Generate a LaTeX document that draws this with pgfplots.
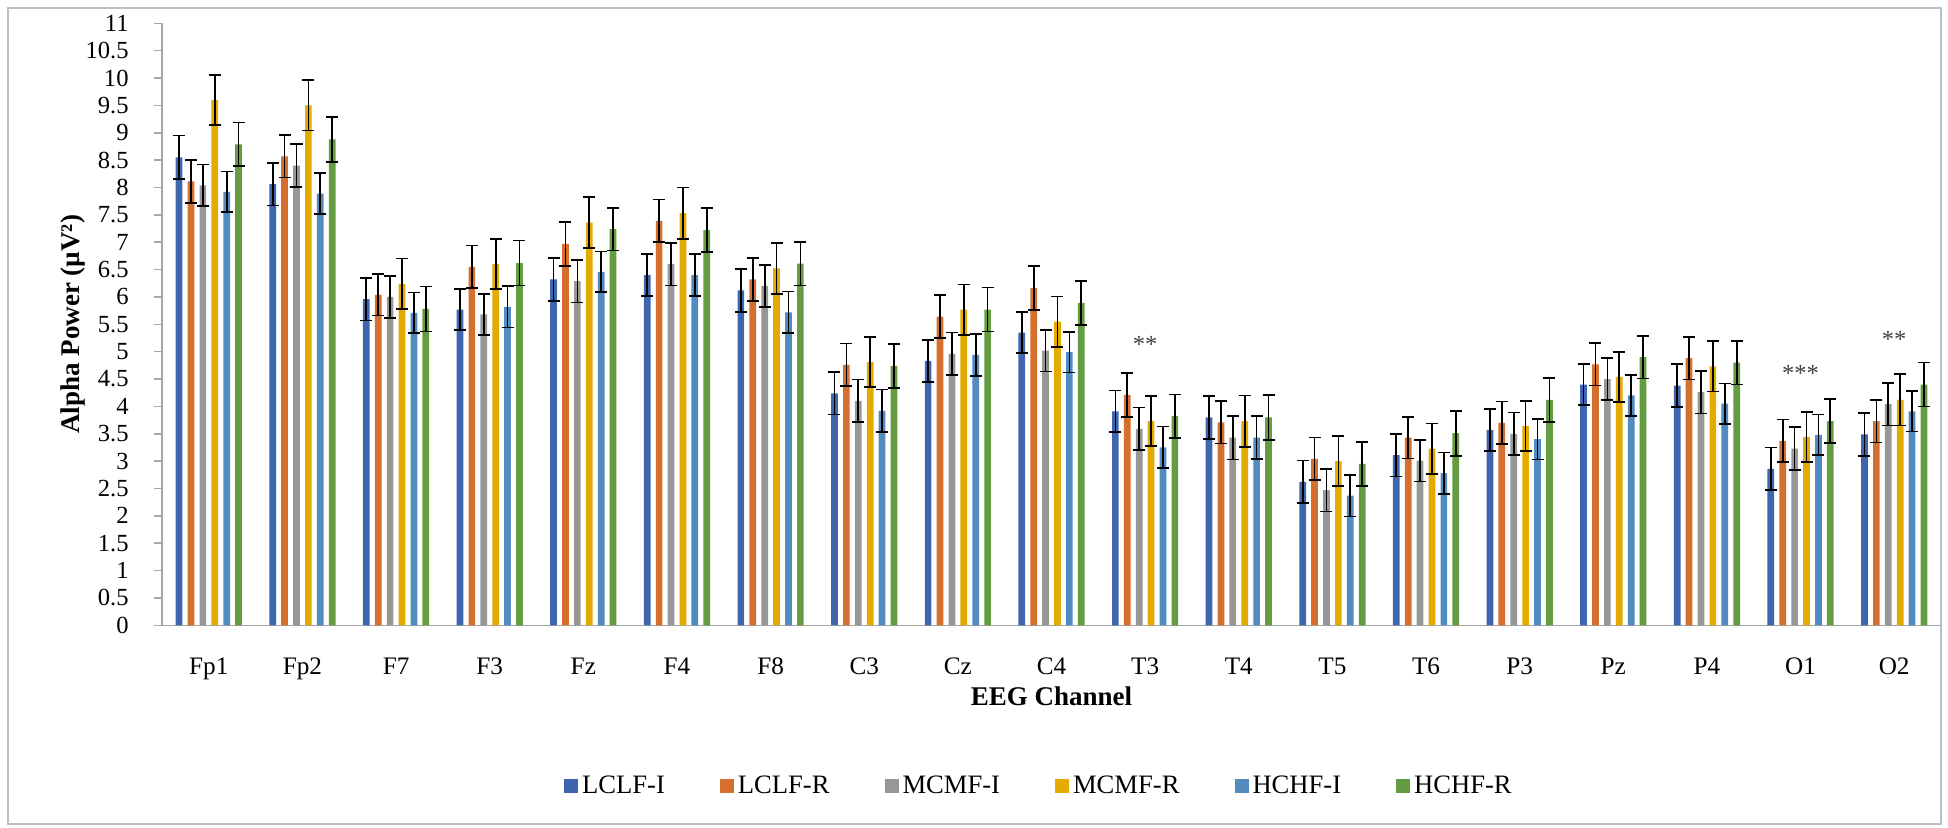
\documentclass[border=0pt]{standalone}
\usepackage{fontspec}
\setmainfont{Liberation Serif}
\usepackage{pgfplots}
\usepackage{pgfplotstable}
\pgfplotsset{compat=1.18}
\definecolor{cLI}{HTML}{3F65AE}
\definecolor{cLR}{HTML}{D56F2E}
\definecolor{cMI}{HTML}{979797}
\definecolor{cMR}{HTML}{E3AB00}
\definecolor{cHI}{HTML}{528BC0}
\definecolor{cHR}{HTML}{639C41}
\definecolor{axgray}{HTML}{A6A6A6}
\definecolor{framegray}{HTML}{BFBFBF}
\pgfplotstableread{
x LI LIe LR LRe MI MIe MR MRe HI HIe HR HRe
0 8.55 0.40 8.11 0.39 8.04 0.38 9.60 0.46 7.92 0.37 8.79 0.40
1 8.06 0.39 8.57 0.39 8.40 0.39 9.50 0.46 7.89 0.37 8.88 0.41
2 5.96 0.39 6.04 0.38 6.00 0.38 6.24 0.46 5.71 0.37 5.78 0.41
3 5.77 0.38 6.55 0.39 5.68 0.38 6.60 0.46 5.82 0.38 6.62 0.41
4 6.32 0.39 6.97 0.40 6.29 0.39 7.36 0.46 6.46 0.37 7.24 0.39
5 6.40 0.38 7.39 0.39 6.60 0.39 7.53 0.47 6.40 0.38 7.22 0.40
6 6.12 0.39 6.32 0.39 6.20 0.38 6.52 0.46 5.72 0.38 6.61 0.40
7 4.24 0.39 4.76 0.39 4.10 0.39 4.81 0.46 3.92 0.39 4.74 0.40
8 4.83 0.38 5.64 0.39 4.96 0.39 5.77 0.46 4.94 0.38 5.77 0.40
9 5.35 0.38 6.16 0.40 5.02 0.38 5.55 0.46 4.99 0.37 5.89 0.40
10 3.91 0.38 4.21 0.40 3.59 0.39 3.73 0.46 3.25 0.38 3.82 0.40
11 3.80 0.39 3.71 0.39 3.43 0.40 3.73 0.47 3.43 0.39 3.80 0.41
12 2.62 0.39 3.04 0.39 2.47 0.39 3.00 0.46 2.37 0.38 2.95 0.40
13 3.11 0.39 3.43 0.38 3.01 0.38 3.23 0.46 2.78 0.38 3.51 0.41
14 3.57 0.38 3.70 0.39 3.50 0.39 3.64 0.46 3.40 0.37 4.12 0.40
15 4.40 0.38 4.77 0.39 4.50 0.38 4.54 0.46 4.20 0.37 4.90 0.39
16 4.38 0.39 4.88 0.39 4.26 0.39 4.73 0.46 4.05 0.37 4.80 0.40
17 2.86 0.39 3.37 0.39 3.23 0.39 3.44 0.46 3.48 0.37 3.73 0.40
18 3.49 0.39 3.73 0.39 4.04 0.39 4.12 0.47 3.91 0.37 4.40 0.40
}\datatable
\begin{document}
\begin{tikzpicture}
\path[use as bounding box] (0,0) rectangle (974pt,413.5pt);
\draw[framegray, line width=0.6pt] (4pt,1.5pt) rectangle (970.5pt,409.5pt);
\begin{axis}[
  at={(81pt,100.85pt)}, anchor=south west,
  scale only axis, width=889.5pt, height=301pt,
  ybar=2.6pt, bar width=3.35pt,
  xmin=-0.5, xmax=18.5, ymin=0, ymax=11,
  axis x line*=bottom, axis y line*=left,
  axis line style={-, draw=axgray, line width=0.75pt},
  xtick={0,...,18},
  xticklabels={Fp1,Fp2,F7,F3,Fz,F4,F8,C3,Cz,C4,T3,T4,T5,T6,P3,Pz,P4,O1,O2},
  x tick style={draw=none},
  ytick={0,0.5,1,1.5,2,2.5,3,3.5,4,4.5,5,5.5,6,6.5,7,7.5,8,8.5,9,9.5,10,10.5,11},
  y tick style={draw=axgray, line width=0.75pt},
  tick align=outside, major tick length=4pt,
  /pgf/number format/assume math mode=true,
  ticklabel style={font=\fontsize{12.3}{14}\selectfont},
  xticklabel style={anchor=base, yshift=-20.5pt, font=\fontsize{12.6}{14}\selectfont},
  yticklabel style={anchor=east, inner sep=0pt, xshift=-12.5pt},
  xlabel={EEG Channel},
  ylabel={Alpha Power (µV²)},
  every axis x label/.style={at={(axis description cs:0.5,0)}, anchor=base, yshift=-40pt,
    font=\fontsize{13.5}{15}\selectfont\bfseries},
  every axis y label/.style={at={(axis description cs:-0.0461,0.5)}, rotate=90, anchor=base,
    font=\fontsize{13.5}{15}\selectfont\bfseries},
  legend columns=6,
  legend style={at={(axis description cs:0.4935,-0.2674)}, anchor=center, draw=none, fill=none,
    font=\fontsize{13.3}{15}\selectfont,
    /tikz/every odd column/.append style={column sep=0pt},
    /tikz/every even column/.append style={column sep=25.5pt}},
  legend image code/.code={\path[#1,draw=none] (0pt,-3.5pt) rectangle (7pt,3.5pt);},
  error bars/y dir=both, error bars/y explicit,
  error bars/error bar style={black, line width=0.85pt},
  error bars/error mark options={rotate=90, mark size=3pt, black, line width=0.85pt},
]
\addplot[fill=cLI, draw=none] table[x=x, y=LI, y error=LIe] {\datatable};
\addplot[fill=cLR, draw=none] table[x=x, y=LR, y error=LRe] {\datatable};
\addplot[fill=cMI, draw=none] table[x=x, y=MI, y error=MIe] {\datatable};
\addplot[fill=cMR, draw=none] table[x=x, y=MR, y error=MRe] {\datatable};
\addplot[fill=cHI, draw=none] table[x=x, y=HI, y error=HIe] {\datatable};
\addplot[fill=cHR, draw=none] table[x=x, y=HR, y error=HRe] {\datatable};
\legend{LCLF-I,LCLF-R,MCMF-I,MCMF-R,HCHF-I,HCHF-R}
\node[anchor=base, text=black!75, font=\fontsize{12.3}{14}\selectfont] at (axis cs:10,4.99) {**};
\node[anchor=base, text=black!75, font=\fontsize{12.3}{14}\selectfont] at (axis cs:17,4.45) {***};
\node[anchor=base, text=black!75, font=\fontsize{12.3}{14}\selectfont] at (axis cs:18,5.07) {**};
\end{axis}
\end{tikzpicture}
\end{document}
